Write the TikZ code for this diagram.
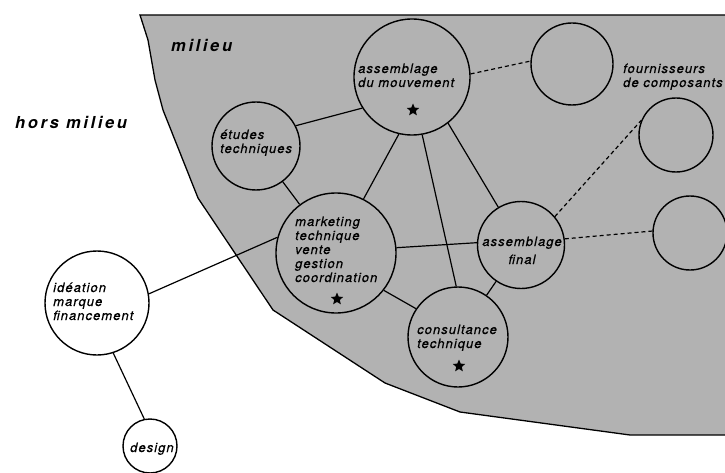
\documentclass[tikz,border=0pt]{standalone}
\usepackage{fontspec}
\setmainfont{TeX Gyre Heros}
\newfontfamily\lblfont[LetterSpace=8,FakeBold=0.6]{TeX Gyre Heros}
\newfontfamily\zonefont[LetterSpace=16]{TeX Gyre Heros}
\usetikzlibrary{shapes.geometric}

\begin{document}
\begin{tikzpicture}[x=1pt,y=-1pt,
  unit/.style={circle,draw,line width=1.4pt,inner sep=0pt,minimum size=#1},
  link/.style={line width=1.2pt},
  dashlink/.style={line width=1.2pt,dash pattern=on 4pt off 3pt},
  lbl/.style={inner sep=0pt,anchor=base west,align=left,
    font=\lblfont\itshape\fontsize{13}{14}\selectfont},
  zone/.style={inner sep=0pt,anchor=base west,
    font=\zonefont\bfseries\itshape\fontsize{16.5}{18}\selectfont},
  keystar/.style={star,star points=5,star point ratio=2.2,fill=black,
    inner sep=0pt,minimum size=13pt}
]
\useasboundingbox (0,0) rectangle (725,473);
\clip (0,0) rectangle (725,473);

% the "milieu" zone
\fill[black!30] (140,15) -- (148,40) -- (155,80) -- (163,110) -- (198,198)
  -- (273,310) -- (385,383) -- (460,412) -- (630,435) -- (730,435)
  -- (730,15) -- cycle;
\draw[line width=1.3pt] (730,15) -- (140,15) -- (148,40) -- (155,80)
  -- (163,110) -- (198,198) -- (273,310) -- (385,383) -- (460,412)
  -- (630,435) -- (730,435);

\node[zone] (milieu) at (171,52) {milieu};
\node[zone] (hors) at (15,129) {hors milieu};

% units
\node[unit=116pt] (amouv) at (412,77) {};
\node[unit=88pt] (etudes) at (256,146) {};
\node[unit=120pt] (mkt) at (336,253) {};
\node[unit=87pt] (afinal) at (521,245) {};
\node[unit=100pt] (consult) at (458,337) {};
\node[unit=104pt,fill=white] (ideation) at (97,303) {};
\node[unit=54pt,fill=white] (design) at (150,446) {};
\node[unit=82pt] (fournA) at (572,64) {};
\node[unit=74pt] (fournB) at (676,135) {};
\node[unit=74pt] (fournC) at (690,233) {};

% unit texts (placed by the baseline of their last line)
\node[lbl] (tamouv) at (358,87) {assemblage\\du mouvement};
\node[lbl] (tetudes) at (220,153) {études\\techniques};
\node[lbl] (tmkt) at (295,282) {marketing\\technique\\vente\\gestion\\coordination};
\node[lbl,align=center,anchor=base] (tafinal) at (522,264) {assemblage\\[4pt]final};
\node[lbl] (tconsult) at (417,348) {consultance\\technique};
\node[lbl] (tideation) at (53,320) {idéation\\marque\\financement};
\node[lbl] (tdesign) at (130,452) {design};
\node[lbl] (tfourn) at (623,87) {fournisseurs\\de composants};

% key units
\node[keystar] (samouv) at (413,110) {};
\node[keystar] (smkt) at (337,299) {};
\node[keystar] (sconsult) at (459,366) {};

% links
\draw[link] (etudes.27) -- (amouv.212);
\draw[link] (etudes) -- (mkt);
\draw[link] (amouv.257) -- (mkt.63);
\draw[link] (amouv.280) -- (consult.92);
\draw[link] (amouv.-52) -- (afinal.121);
\draw[link] (mkt.5) -- (afinal.177);
\draw[link] (mkt.-38) -- (consult.146);
\draw[link] (afinal) -- (consult);
\draw[link] (ideation.10) -- (mkt.165);
\draw[link] (ideation.-72) -- (design.102);

% supplier links
\draw[dashlink] (amouv.3) -- (fournA.176);
\draw[dashlink] (afinal.40) -- (fournB.157);
\draw[dashlink] (afinal.8) -- (fournC.177);
\end{tikzpicture}
\end{document}
